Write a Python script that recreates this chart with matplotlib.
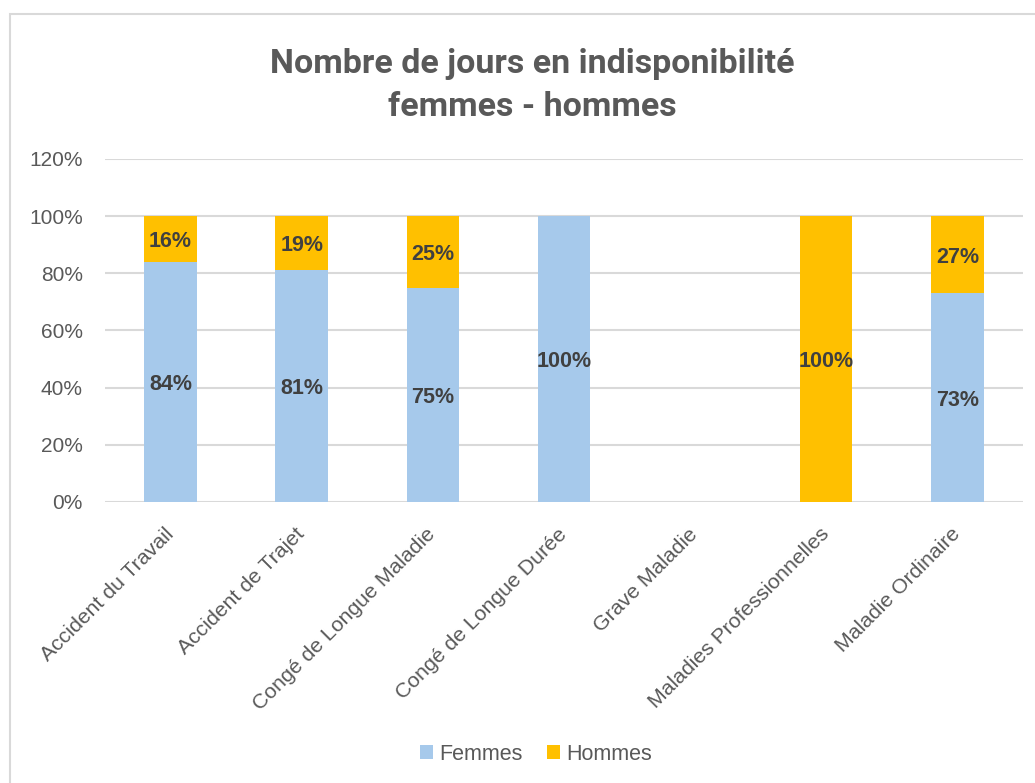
import matplotlib
matplotlib.use("Agg")
import matplotlib.pyplot as plt
import numpy as np

categories = ["Accident du Travail", "Accident de Trajet", "Congé de Longue Maladie",
              "Congé de Longue Durée", "Grave Maladie", "Maladies Professionnelles",
              "Maladie Ordinaire"]
femmes = [84, 81, 75, 100, 0, 0, 73]
hommes = [16, 19, 25, 0, 0, 100, 27]
yticks = [0, 20, 40, 60, 80, 100, 120]

blue = "#a6c9eb"
gold = "#ffc000"
txt = "#595959"
lab = "#404040"

fig = plt.figure(figsize=(10.35, 7.83), dpi=100)
ax = fig.add_axes([0.1014, 0.3589, 0.8870, 0.4381])

x = np.arange(len(categories))
w = 0.4
ax.bar(x, femmes, w, color=blue, label="Femmes", zorder=3)
ax.bar(x, hommes, w, bottom=femmes, color=gold, label="Hommes", zorder=3)

for i in range(len(categories)):
    if femmes[i] > 0:
        ax.text(x[i], femmes[i] / 2, "%d%%" % femmes[i], ha="center", va="center_baseline",
                fontsize=15.5, fontweight="bold", color=lab, family="Liberation Sans", zorder=4)
    if hommes[i] > 0:
        ax.text(x[i], femmes[i] + hommes[i] / 2, "%d%%" % hommes[i], ha="center", va="center_baseline",
                fontsize=15.5, fontweight="bold", color=lab, family="Liberation Sans", zorder=4)

ax.set_xlim(-0.5, len(categories) - 0.5)
ax.set_ylim(0, 120)
ax.set_yticks(yticks)
ax.set_yticklabels(["%d%%" % v for v in yticks], fontsize=15, color=txt, family="Liberation Sans")
ax.yaxis.grid(True, color="#d9d9d9", lw=1.5, zorder=0)
ax.tick_params(axis="y", length=0, pad=16)
ax.tick_params(axis="x", length=0, pad=21)
ax.set_xticks(x)
ax.set_xticklabels(categories, rotation=45, ha="right", va="center", rotation_mode="anchor",
                   fontsize=15.3, color=txt, family="Liberation Sans")
for s in ax.spines.values():
    s.set_visible(False)

fig.text(0.514, 0.891, "Nombre de jours en indisponibilité\nfemmes - hommes", ha="center",
         va="center", fontsize=24.5, fontweight="bold", color=txt, family="Roboto",
         linespacing=1.42)

ax.legend(loc="center", bbox_to_anchor=(0.518, 0.037), bbox_transform=fig.transFigure,
          ncol=2, frameon=False, handlelength=0.6, handleheight=0.6,
          columnspacing=1.1, handletextpad=0.3, prop={"family": "Liberation Sans", "size": 15.5},
          labelcolor=txt)

frame = plt.Rectangle((10 / 1035, -0.01), 1.1, 1 - 14 / 783 + 0.01, transform=fig.transFigure,
                      fill=False, edgecolor="#d9d9d9", lw=1.5)
fig.add_artist(frame)

fig.savefig("out.png", dpi=100)
